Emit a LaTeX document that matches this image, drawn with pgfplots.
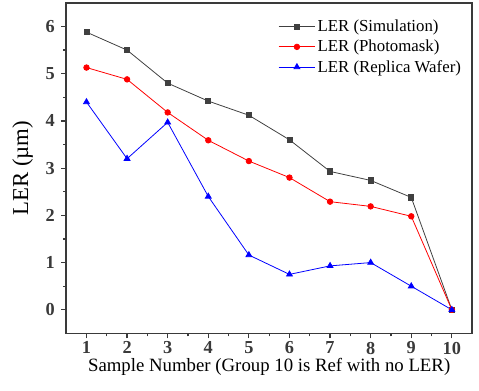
\documentclass[border=0pt]{standalone}
\usepackage{pgfplots}
\pgfplotsset{compat=1.18}
\usepackage{fontspec}
\setmainfont{Liberation Serif}
\definecolor{simgray}{HTML}{404040}
\definecolor{axgray}{HTML}{3A3A3A}
\begin{document}
\begin{tikzpicture}
\begin{axis}[
  scale only axis,
  width=409bp, height=333bp,
  xmin=0.5, xmax=10.5, ymin=-0.5, ymax=6.5,
  xtick={1,...,10}, ytick={0,...,6},
  minor x tick num=1, minor y tick num=1,
  tick align=outside,
  xtick pos=bottom, ytick pos=left,
  major tick length=5bp, minor tick length=3bp,
  axis line style={axgray, line width=1.8pt},
  every tick/.style={axgray, line width=1.2pt},
  ticklabel style={font=\fontsize{18.5}{18.5}\selectfont\bfseries, text=axgray},
  xticklabel style={yshift=0bp},
  yticklabel style={xshift=-3bp},
  /pgf/number format/assume math mode=true,
  xlabel={Sample Number (Group 10 is Ref with no LER)},
  ylabel={LER (µm)},
  xlabel style={font=\fontsize{19}{19}\selectfont, yshift=3bp},
  ylabel style={font=\fontsize{23}{23}\selectfont, yshift=6bp},
  legend style={draw=none, fill=none, at={(0.985,0.96)}, anchor=north east,
    font=\fontsize{17}{17}\selectfont, row sep=3pt},
  legend cell align=left,
  legend image code/.code={
    \draw[mark repeat=2,mark phase=2,#1] plot coordinates {(0cm,0cm) (0.65cm,0cm) (1.3cm,0cm)};
  },
]
\addplot[simgray, line width=0.8pt, mark=square*, mark size=2.6pt, mark options={fill=simgray}]
coordinates {(1,5.88) (2,5.5) (3,4.8) (4,4.42) (5,4.12) (6,3.6) (7,2.93) (8,2.74) (9,2.38) (10,0)};
\addlegendentry{LER (Simulation)}
\addplot[red, line width=0.8pt, mark=*, mark size=2.8pt, mark options={fill=red}]
coordinates {(1,5.13) (2,4.88) (3,4.18) (4,3.59) (5,3.15) (6,2.8) (7,2.29) (8,2.19) (9,1.98) (10,0)};
\addlegendentry{LER (Photomask)}
\addplot[blue, line width=0.8pt, mark=triangle*, mark size=3.4pt, mark options={fill=blue}]
coordinates {(1,4.4) (2,3.2) (3,3.97) (4,2.4) (5,1.16) (6,0.75) (7,0.93) (8,1.0) (9,0.5) (10,0)};
\addlegendentry{LER (Replica Wafer)}
\end{axis}
\path (current bounding box.south west) ++(-9bp,-12bp);
\path (current bounding box.north east) ++(6bp,2bp);
\end{tikzpicture}
\end{document}
